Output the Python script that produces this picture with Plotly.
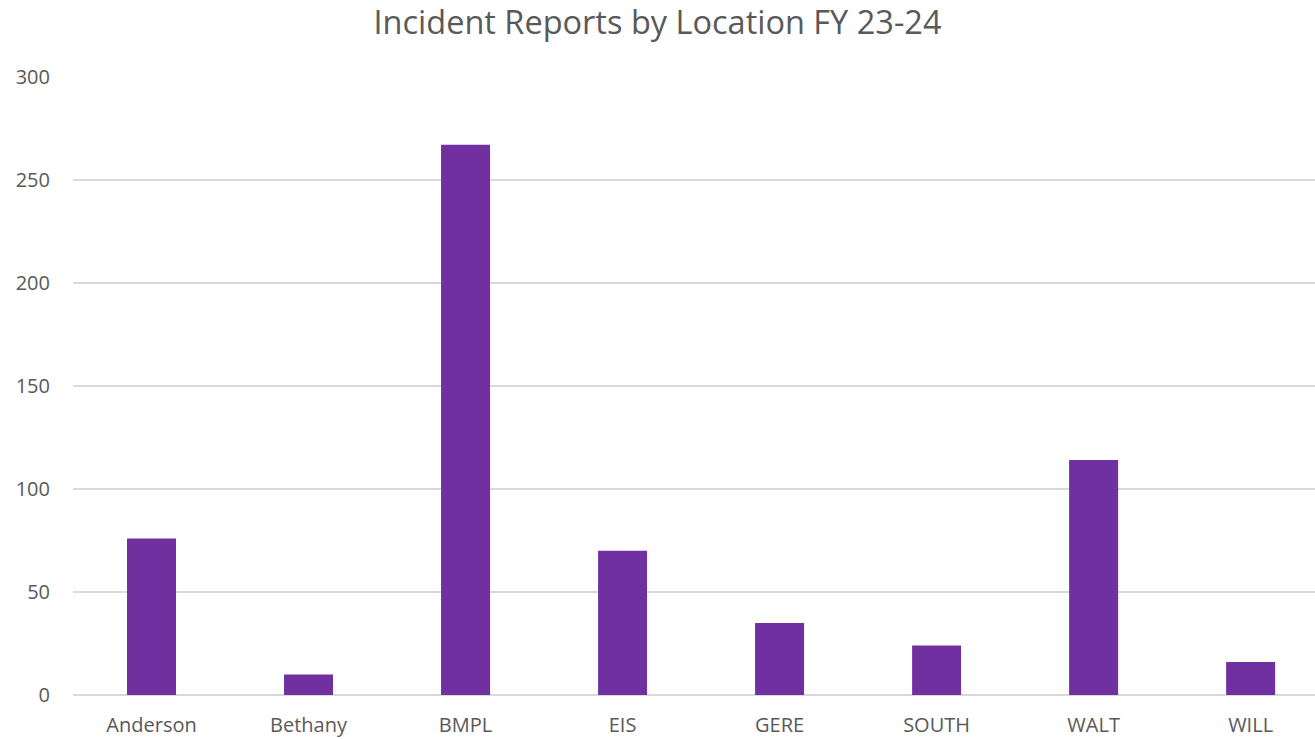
import plotly.graph_objects as go

categories = ["Anderson", "Bethany", "BMPL", "EIS", "GERE", "SOUTH", "WALT", "WILL"]
values = [76, 10, 267, 70, 35, 24, 114, 16]
title_text = "Incident Reports by Location FY 23-24"
y_ticks = [0, 50, 100, 150, 200, 250, 300]

fig = go.Figure(go.Bar(x=categories, y=values, marker=dict(color="#7030A0", line=dict(width=0))))

fig.update_layout(
    width=1315, height=739,
    paper_bgcolor="white", plot_bgcolor="white",
    margin=dict(l=73, r=0, t=76, b=44),
    bargap=0.688,
    showlegend=False,
    font=dict(family="Open Sans, Liberation Sans, sans-serif", color="#595959", size=20),
    title=dict(text=title_text, x=0.5, xanchor="center", y=1 - 23 / 739, yanchor="middle",
               font=dict(size=32.5, color="#595959")),
    xaxis=dict(range=[-0.5, 7.41], showgrid=False, showline=False, ticks="",
               tickfont=dict(size=20), ticklabelstandoff=16),
    yaxis=dict(range=[0, 300.4], tickvals=y_ticks, showgrid=True, gridcolor="#d9d9d9",
               gridwidth=1.5, zeroline=True, zerolinecolor="#d9d9d9", zerolinewidth=1.5,
               showline=False, ticks="", ticklabelstandoff=22, tickfont=dict(size=20)),
)

fig.write_html("out.html", config={"displayModeBar": False},
               post_script="document.body.style.margin='0';")
